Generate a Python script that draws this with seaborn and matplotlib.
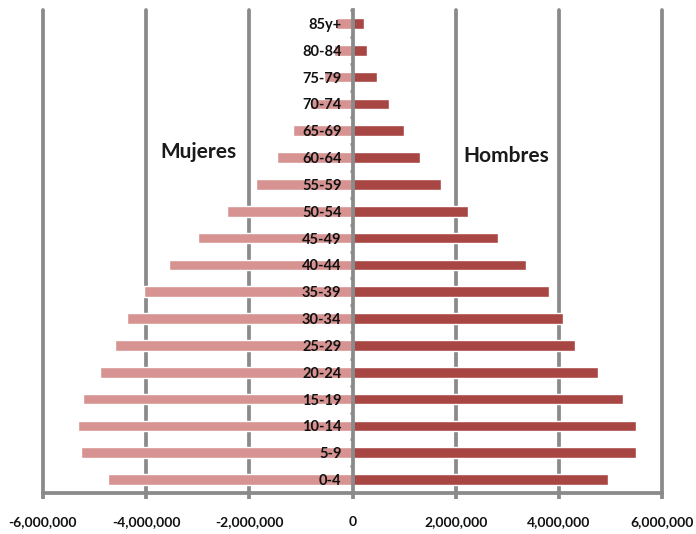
import matplotlib
matplotlib.use("Agg")
import matplotlib.pyplot as plt
from matplotlib.ticker import FixedLocator, FuncFormatter
import seaborn as sns
import pandas as pd

# Age groups, oldest first (top of the pyramid)
age_groups = ["85y+", "80-84", "75-79", "70-74", "65-69", "60-64", "55-59",
              "50-54", "45-49", "40-44", "35-39", "30-34", "25-29", "20-24",
              "15-19", "10-14", "5-9", "0-4"]

# Population by age group
mujeres = [320000, 360000, 560000, 820000, 1160000, 1470000, 1880000,
           2440000, 3000000, 3550000, 4040000, 4370000, 4600000, 4890000,
           5220000, 5320000, 5260000, 4740000]
hombres = [230000, 280000, 470000, 700000, 990000, 1310000, 1720000,
           2230000, 2830000, 3370000, 3800000, 4090000, 4320000, 4750000,
           5250000, 5500000, 5500000, 4960000]

x_ticks = [-6000000, -4000000, -2000000, 0, 2000000, 4000000, 6000000]

df = pd.DataFrame({"edad": age_groups,
                   "mujeres": [-v for v in mujeres],
                   "hombres": hombres})

sns.set_theme(style="white")
plt.rcParams["font.family"] = ["Lato", "DejaVu Sans"]
plt.rcParams["font.weight"] = "bold"

GRID = "#8a8a8a"
C_MUJ = "#d69392"
C_HOM = "#a84644"

fig = plt.figure(figsize=(6.96, 5.34), dpi=100)
ax = fig.add_axes([43 / 696, 1 - 493 / 534, (662 - 43) / 696, (493 - 10) / 534])

sns.barplot(data=df, y="edad", x="mujeres", order=age_groups, color=C_MUJ,
            width=0.4, saturation=1, orient="h", ax=ax, zorder=2)
sns.barplot(data=df, y="edad", x="hombres", order=age_groups, color=C_HOM,
            width=0.4, saturation=1, orient="h", ax=ax, zorder=2)

n = len(age_groups)
ax.set_xlim(-6000000, 6000000)
ax.set_ylim(n - 0.5, -0.5)

# vertical gridlines behind the bars
for xv in x_ticks:
    if xv != 0:
        ax.axvline(xv, color=GRID, lw=2.7, zorder=1, clip_on=False)

# central axis at zero with ticks between age groups
for side in ["top", "right"]:
    ax.spines[side].set_visible(False)
ax.spines["left"].set_position(("data", 0))
ax.spines["left"].set_color(GRID)
ax.spines["left"].set_linewidth(2.7)
ax.spines["left"].set_zorder(4)
ax.spines["bottom"].set_color(GRID)
ax.spines["bottom"].set_linewidth(2.7)
ax.yaxis.set_zorder(5)
ax.xaxis.set_zorder(5)

ax.yaxis.set_minor_locator(FixedLocator([i - 0.5 for i in range(n + 1)]))
ax.tick_params(axis="y", which="minor", left=True, length=2.5, width=2, color=GRID, direction="out")
ax.tick_params(axis="y", which="major", left=False, length=0, pad=8,
               labelsize=10.5, labelcolor="#111111")
for lab in ax.get_yticklabels():
    lab.set_fontweight("bold")

ax.xaxis.set_major_locator(FixedLocator(x_ticks))
ax.xaxis.set_major_formatter(FuncFormatter(lambda v, p: f"{int(v):,}"))
ax.tick_params(axis="x", which="major", bottom=True, length=4.5, width=2.7,
               color=GRID, direction="out", pad=12, labelsize=10, labelcolor="#111111")
for lab in ax.get_xticklabels():
    lab.set_fontweight("bold")

ax.set_xlabel("")
ax.set_ylabel("")

ax.text(-2990000, n - 1 - 12.2, "Mujeres", ha="center", va="center", fontsize=15,
        fontweight="bold", color="#1a1a1a", zorder=6)
ax.text(2990000, n - 1 - 12.05, "Hombres", ha="center", va="center", fontsize=15,
        fontweight="bold", color="#1a1a1a", zorder=6)

fig.savefig("out.png", dpi=100, facecolor="white")
